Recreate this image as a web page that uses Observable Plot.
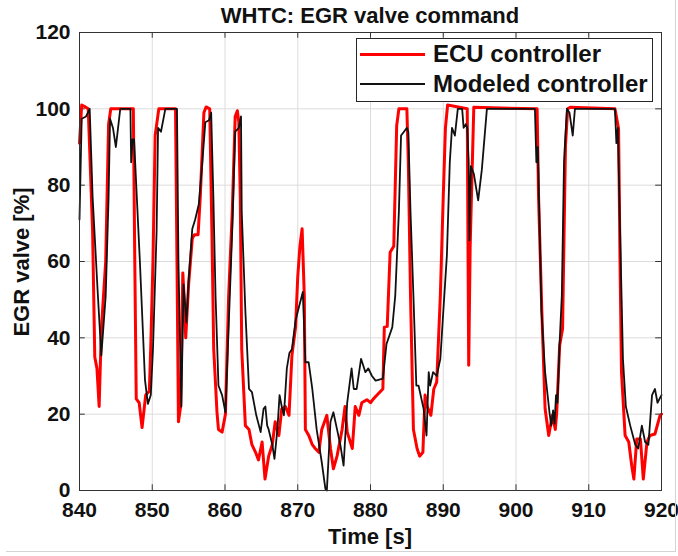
<!DOCTYPE html>
<html>
<head>
<meta charset="utf-8">
<script src="https://cdn.jsdelivr.net/npm/d3@7"></script>
<script src="https://cdn.jsdelivr.net/npm/@observablehq/plot@0.6"></script>
<style>
  html, body { margin: 0; padding: 0; background: #fff; }
  #wrap { position: relative; width: 678px; height: 556px; overflow: hidden; font-family: "Liberation Sans", Arial, sans-serif; font-weight: bold; color: #111; }
  #wrap svg text { font-weight: bold; }
  #title { position: absolute; left: 70px; width: 600px; top: 3px; text-align: center; font-size: 22px; line-height: 26px; }
  #xlabel { position: absolute; left: 70px; width: 600px; top: 524px; text-align: center; font-size: 22px; line-height: 26px; }
  #ylabel { position: absolute; left: 22px; top: 262px; width: 200px; margin-left: -100px; margin-top: -13px; text-align: center; font-size: 22px; line-height: 26px; transform: rotate(-90deg); }
  #legend { position: absolute; left: 356px; top: 38px; width: 297px; height: 64px; border: 1px solid #262626; background: #fff; box-sizing: border-box; }
  .row { position: absolute; left: 0; height: 30px; display: flex; align-items: center; font-size: 24px; }
  .sw { display: inline-block; width: 65px; margin-left: 3px; margin-right: 8px; }
  #edgeR { position: absolute; left: 675px; top: 0; width: 1px; height: 552px; background: #d4d4d4; }
  #edgeB { position: absolute; left: 6px; top: 551px; width: 670px; height: 1px; background: #d4d4d4; }
</style>
</head>
<body>
<div id="wrap">
  <div id="chart"></div>
  <div id="title">WHTC: EGR valve command</div>
  <div id="xlabel">Time [s]</div>
  <div id="ylabel">EGR valve [%]</div>
  <div id="legend"></div>
  <div id="edgeR"></div>
  <div id="edgeB"></div>
</div>
<script>
// ---- Data ----
const seriesNames = ["ECU controller", "Modeled controller"];
const seriesColors = ["#ff0000", "#111111"];
const xTicks = [840, 850, 860, 870, 880, 890, 900, 910, 920];
const yTicks = [0, 20, 40, 60, 80, 100, 120];

const ecuTime = [840.0, 840.3, 840.8, 841.2, 841.8, 842.1, 842.4, 842.7, 843.0, 843.6, 844.0, 844.3, 847.4, 847.6, 847.8, 848.2, 848.6, 849.1, 849.6, 849.8, 850.1, 850.4, 850.9, 853.2, 853.4, 853.6, 853.9, 854.2, 854.4, 854.6, 855.0, 855.5, 855.8, 856.3, 856.6, 857.1, 857.4, 857.9, 858.2, 858.45, 858.9, 859.1, 859.6, 860.06, 860.5, 861.0, 861.4, 861.7, 861.9, 862.1, 862.3, 862.8, 863.3, 863.7, 864.2, 864.6, 865.1, 865.5, 866.0, 866.5, 866.9, 867.4, 867.8, 868.3, 868.8, 869.2, 869.7, 870.0, 870.3, 870.6, 870.9, 871.05, 871.5, 872.0, 872.4, 872.9, 873.3, 874.0, 874.5, 874.9, 875.4, 876.1, 876.5, 876.8, 877.5, 877.9, 878.4, 878.8, 879.5, 880.0, 880.4, 880.9, 881.3, 881.7, 881.9, 882.3, 882.7, 883.2, 883.6, 883.9, 885.0, 885.2, 885.5, 885.9, 886.4, 886.75, 887.2, 887.5, 887.8, 888.3, 888.7, 889.1, 889.6, 890.0, 890.3, 890.6, 893.3, 893.4, 893.5, 893.7, 894.0, 894.2, 902.9, 903.1, 903.55, 904.0, 904.5, 905.0, 905.4, 905.6, 906.0, 906.4, 906.8, 907.1, 907.45, 913.6, 914.1, 914.3, 914.5, 915.0, 915.5, 915.9, 916.2, 916.6, 917.1, 917.5, 918.0, 918.4, 919.1, 919.8, 920.0];
const ecuValve = [91, 101, 100.5, 100, 68, 35, 32, 22, 42, 60, 96, 100, 100, 60, 24, 23, 16.5, 25, 26, 38, 60, 93, 100, 100, 60, 18, 22, 57, 50, 40, 54, 66, 67, 67, 77, 99, 100.5, 100, 68, 37, 20.5, 16, 15.3, 20, 51, 73, 98, 99.5, 96.5, 77, 37, 17, 16, 12, 10, 8, 12.7, 3, 9, 12, 18, 14.4, 21.4, 22, 19.7, 35.4, 42.8, 56, 64, 68.6, 51, 16, 14.5, 12, 11, 10, 16, 19.7, 11, 5.7, 9, 16, 22, 15.3, 11, 22, 19.7, 23, 23.8, 23, 24, 25, 25.8, 26.6, 42.8, 43, 62.4, 64, 95.6, 100, 100, 86, 51, 16, 11, 9, 10, 25, 22, 19.7, 26.6, 28.4, 51, 77, 95, 101, 100, 64.6, 32.8, 64, 86, 100.4, 100, 77, 47, 21.4, 14.4, 19.7, 16, 20.5, 38, 42.4, 90.4, 100, 100.4, 100, 94.8, 60, 31, 14.4, 12.7, 6.6, 3, 13.5, 13.5, 3, 12.7, 14.4, 14.8, 19.7, 20];

const modTime = [840.0, 840.3, 840.9, 841.4, 841.8, 842.5, 843.0, 843.6, 844.0, 844.2, 844.6, 845.0, 845.6, 847.0, 847.1, 847.3, 847.5, 848.3, 849.0, 849.4, 849.8, 850.1, 850.6, 850.8, 851.2, 851.8, 853.4, 853.6, 854.0, 854.3, 854.7, 855.0, 855.5, 855.9, 856.4, 856.8, 857.3, 857.8, 858.1, 858.4, 858.7, 859.1, 859.6, 860.06, 860.5, 861.0, 861.4, 861.9, 862.2, 862.3, 862.8, 863.3, 863.7, 864.3, 864.9, 865.3, 865.55, 865.8, 866.0, 866.5, 866.8, 867.2, 867.5, 867.8, 868.1, 868.5, 868.85, 869.2, 869.7, 870.1, 870.7, 871.05, 871.5, 872.0, 872.6, 873.3, 873.8, 874.0, 874.5, 874.9, 875.4, 875.85, 876.3, 876.8, 877.4, 877.7, 878.1, 878.7, 879.3, 879.7, 880.2, 880.7, 881.1, 881.7, 882.2, 883.0, 883.4, 883.9, 884.2, 884.6, 885.0, 885.2, 885.5, 885.9, 886.3, 886.6, 887.3, 887.7, 888.0, 888.2, 888.6, 889.1, 889.6, 890.0, 890.5, 890.9, 891.2, 891.6, 892.0, 892.6, 892.8, 893.1, 893.3, 893.5, 893.6, 893.8, 894.2, 894.8, 895.3, 896.0, 902.6, 902.8, 903.0, 903.5, 904.0, 904.6, 904.85, 905.1, 905.3, 905.5, 905.7, 906.0, 906.3, 906.6, 907.0, 907.35, 907.8, 908.1, 913.6, 913.8, 914.0, 914.3, 914.7, 915.1, 915.7, 916.4, 916.8, 917.3, 917.75, 918.2, 918.7, 919.1, 919.45, 920.0];
const modValve = [71, 97.4, 98, 100, 77, 52, 35.4, 51, 77, 97.4, 95, 90, 100, 100, 86, 92, 92, 60, 29, 22.7, 25, 37, 68, 95, 94, 100, 100, 60, 22, 54, 44, 55, 68.5, 71, 75, 84, 96.5, 97, 99, 77, 51, 27.5, 25, 20.5, 42.8, 68.5, 94, 95, 98, 73, 47, 26.6, 25.8, 19.7, 15.3, 21.4, 22, 17, 16, 12, 8.3, 16, 25, 22, 19.7, 32, 36, 37, 44.5, 47.6, 52, 33.6, 33.6, 26.6, 16, 7.4, 0.4, 0, 18, 20.5, 16, 12, 6.5, 23, 32, 26.6, 26.6, 34.5, 31, 32, 30, 28.8, 29, 29.3, 38.4, 42.8, 51, 73, 93, 94, 95, 94, 73, 51, 27.5, 27.5, 21.4, 14.4, 31, 27.5, 31, 30, 34.5, 46.7, 61.6, 86, 95, 93, 100, 100, 95, 96, 95, 86, 65.6, 85, 83, 76, 84, 100, 100, 86, 90, 47, 31, 20.5, 17, 21, 17.5, 25, 23, 38.9, 51, 86, 100, 99, 93, 100, 100, 91, 95, 68.6, 34.5, 22, 17, 12, 11, 17, 12.7, 12, 25, 26.6, 23, 25];

// ---- Build tables ----
const ecu = ecuTime.map((t, i) => ({t, v: ecuValve[i]}));
const mod = modTime.map((t, i) => ({t, v: modValve[i]}));

const axisColor = "#333";
const chart = Plot.plot({
  width: 678,
  height: 556,
  marginLeft: 79,
  marginRight: 17,
  marginTop: 32,
  marginBottom: 66,
  x: {domain: [840, 920]},
  y: {domain: [0, 120]},
  style: {fontFamily: "'Liberation Sans', Arial, sans-serif", fontSize: "20px", color: "#111", background: "#fff", overflow: "visible"},
  marks: [
    Plot.gridX(xTicks, {stroke: "#dcdcdc", strokeOpacity: 1, strokeWidth: 1}),
    Plot.gridY(yTicks, {stroke: "#dcdcdc", strokeOpacity: 1, strokeWidth: 1}),
    Plot.ruleX(xTicks, {y1: 0, y2: 1.5, stroke: axisColor}),
    Plot.ruleX(xTicks, {y1: 118.5, y2: 120, stroke: axisColor}),
    Plot.ruleY(yTicks, {x1: 840, x2: 840.8, stroke: axisColor}),
    Plot.ruleY(yTicks, {x1: 919.2, x2: 920, stroke: axisColor}),
    Plot.axisX(xTicks, {tickSize: 0, tickPadding: 12, fontSize: 21, fontWeight: "bold", label: null}),
    Plot.axisY(yTicks, {tickSize: 0, tickPadding: 9, fontSize: 21, fontWeight: "bold", label: null}),
    Plot.line(ecu, {x: "t", y: "v", stroke: seriesColors[0], strokeWidth: 3, strokeLinejoin: "round"}),
    Plot.line(mod, {x: "t", y: "v", stroke: seriesColors[1], strokeWidth: 1.8, strokeLinejoin: "round"}),
    Plot.frame({stroke: axisColor, strokeWidth: 1})
  ]
});
document.getElementById("chart").appendChild(chart);

// ---- Legend ----
const legend = document.getElementById("legend");
seriesNames.forEach((name, i) => {
  const row = document.createElement("div");
  row.className = "row";
  row.style.top = (i === 0 ? 0 : 30) + "px";
  const sw = document.createElement("span");
  sw.className = "sw";
  sw.style.height = (i === 0 ? 3 : 2) + "px";
  sw.style.background = seriesColors[i];
  const tx = document.createElement("span");
  tx.textContent = name;
  row.appendChild(sw);
  row.appendChild(tx);
  legend.appendChild(row);
});
</script>
</body>
</html>
